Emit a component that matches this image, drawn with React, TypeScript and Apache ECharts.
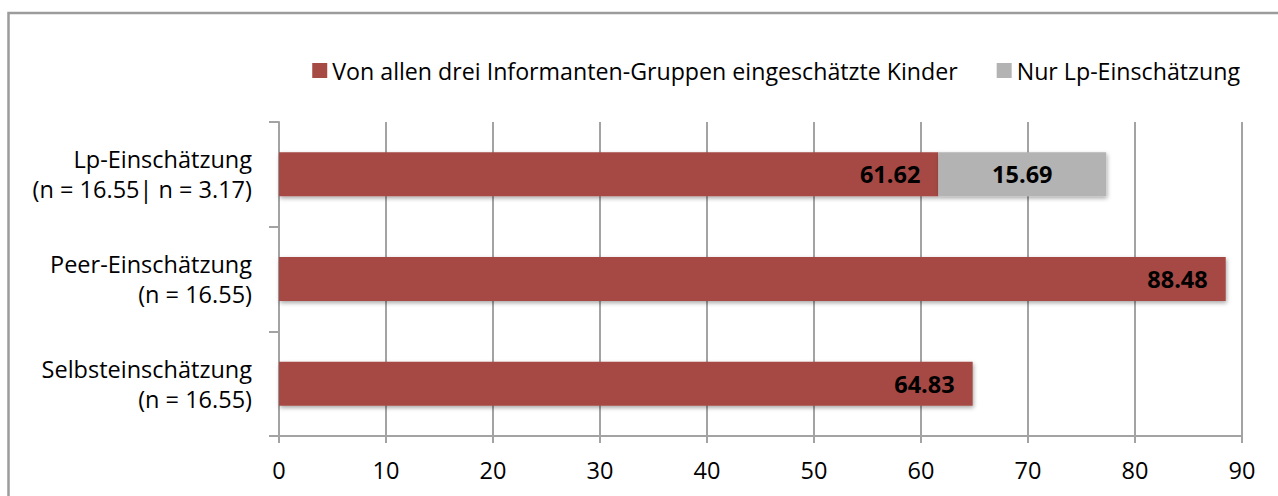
import React, { useEffect, useRef } from "react";
import * as echarts from "echarts";

const categories = [
  "Selbsteinschätzung\n(n = 16.55)",
  "Peer-Einschätzung\n(n = 16.55)",
  "Lp-Einschätzung\n(n = 16.55| n = 3.17)",
];
const allGroups = [64.83, 88.48, 61.62];
const onlyLp: (number | string)[] = ["-", "-", 15.69];
const seriesNames = [
  "Von allen drei Informanten-Gruppen eingeschätzte Kinder",
  "Nur Lp-Einschätzung",
];
const xTicks = { min: 0, max: 90, interval: 10 };

const FONT = "Open Sans";
const FS = 23.5;
const GRID_COLOR = "#a3a3a3";

export default function App() {
  const ref = useRef<HTMLDivElement>(null);
  useEffect(() => {
    if (!ref.current) return;
    const chart = echarts.init(ref.current, undefined, { renderer: "svg" });
    const shadow = {
      shadowColor: "rgba(0,0,0,0.35)",
      shadowBlur: 4,
      shadowOffsetX: 1,
      shadowOffsetY: 2,
    };
    chart.setOption({
      animation: false,
      textStyle: { fontFamily: FONT },
      graphic: [
        {
          type: "rect",
          shape: { x: 8.5, y: 13, width: 1400, height: 700 },
          style: { fill: "none", stroke: "#9c9c9c", lineWidth: 2.5 },
          silent: true,
        },
      ],
      legend: {
        top: 54,
        right: 33,
        itemWidth: 15,
        itemHeight: 15,
        itemGap: 39,
        icon: "rect",
        textStyle: { fontSize: 23.2, color: "#000", fontFamily: FONT },
        data: seriesNames,
      },
      grid: { left: 279, right: 36, top: 122, bottom: 60, containLabel: false },
      xAxis: {
        type: "value",
        min: xTicks.min,
        max: xTicks.max,
        interval: xTicks.interval,
        axisLine: { show: true, lineStyle: { color: GRID_COLOR, width: 2 } },
        axisTick: { show: true, length: 7, lineStyle: { color: GRID_COLOR, width: 2 } },
        splitLine: { show: true, lineStyle: { color: GRID_COLOR, width: 2 } },
        axisLabel: { fontSize: FS, color: "#000", margin: 22, fontFamily: FONT },
      },
      yAxis: {
        type: "category",
        data: categories,
        axisLine: { show: true, lineStyle: { color: GRID_COLOR, width: 2 } },
        axisTick: { show: true, length: 10, lineStyle: { color: GRID_COLOR, width: 2 } },
        axisLabel: {
          fontSize: FS,
          color: "#000",
          margin: 27,
          lineHeight: 30,
          align: "right",
          fontFamily: FONT,
        },
      },
      series: [
        {
          name: seriesNames[0],
          type: "bar",
          stack: "total",
          barWidth: 44,
          data: allGroups,
          itemStyle: { color: "#a64a44", ...shadow },
          label: {
            show: true,
            position: "insideRight",
            distance: 18,
            fontSize: FS,
            fontWeight: "bold",
            color: "#000",
            fontFamily: FONT,
            formatter: (p: any) => p.value.toFixed(2),
          },
        },
        {
          name: seriesNames[1],
          type: "bar",
          stack: "total",
          barWidth: 44,
          data: onlyLp,
          itemStyle: { color: "#b3b3b3", ...shadow },
          label: {
            show: true,
            position: "inside",
            fontSize: FS,
            fontWeight: "bold",
            color: "#000",
            fontFamily: FONT,
            formatter: (p: any) => (typeof p.value === "number" ? p.value.toFixed(2) : ""),
          },
        },
      ],
    });
    return () => chart.dispose();
  }, []);
  return (
    <div
      ref={ref}
      style={{ position: "absolute", left: 0, top: 0, width: 1278, height: 496, background: "#fff" }}
    />
  );
}
